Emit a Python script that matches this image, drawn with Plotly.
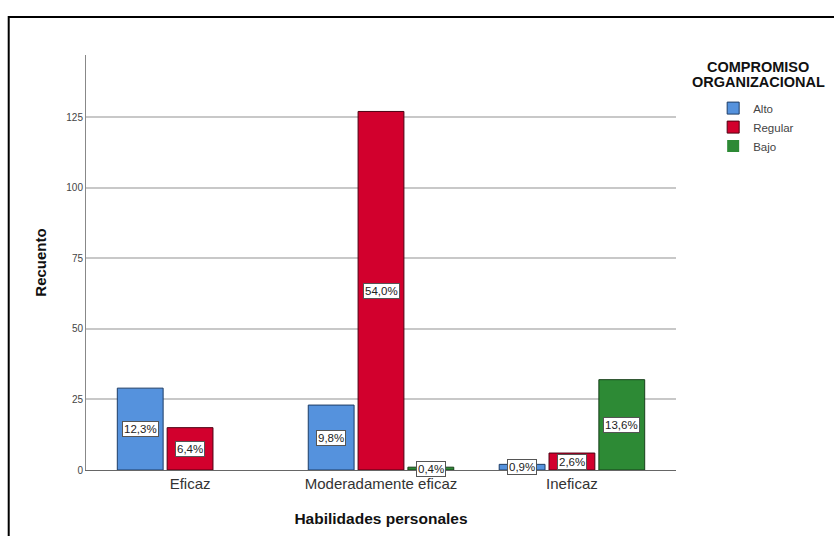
import plotly.graph_objects as go

# Counts of respondents by personal-skills level and organisational commitment
categories = ["Eficaz", "Moderadamente eficaz", "Ineficaz"]
series_names = ["Alto", "Regular", "Bajo"]
alto = [29, 23, 2]
regular = [15, 127, 6]
bajo = [0, 1, 32]
y_ticks = [0, 25, 50, 75, 100, 125]
legend_heading = ["COMPROMISO", "ORGANIZACIONAL"]

series_values = [alto, regular, bajo]
fill_colors = ["#5592dd", "#d2002d", "#2d8a35"]
line_colors = ["#1e3d66", "#4d0012", "#173f1a"]

FONT = "Liberation Sans, Arial, sans-serif"
total = sum(sum(v) for v in series_values)

bar_w = 0.24
gap = 0.021
offsets = [-bar_w * 1.5 - gap, -bar_w / 2, bar_w / 2 + gap]

fig = go.Figure()
annotations = []
for name, vals, fc, lc, off in zip(series_names, series_values, fill_colors, line_colors, offsets):
    fig.add_trace(go.Bar(
        x=categories, y=vals, name=name,
        width=bar_w, offset=off,
        marker=dict(color=fc, line=dict(color=lc, width=[1 if v > 0 else 0 for v in vals])),
        hoverinfo="x+y+name",
    ))
    # percentage-of-total label in the middle of each non-empty bar
    for i, v in enumerate(vals):
        if v <= 0:
            continue
        pct = f"{100 * v / total:.1f}%".replace(".", ",")
        annotations.append(dict(
            x=i + off + bar_w / 2, y=v / 2, xref="x", yref="y",
            text=pct, showarrow=False,
            font=dict(family=FONT, size=11.5, color="#222222"),
            bgcolor="white", bordercolor="#555555", borderwidth=1, borderpad=1,
        ))

# Legend heading, two tightly spaced lines
for line, ypos in zip(legend_heading, [0.971, 0.935]):
    annotations.append(dict(
        x=1.139, y=ypos, xref="paper", yref="paper",
        text=f"<b>{line}</b>", showarrow=False,
        xanchor="center", yanchor="middle",
        font=dict(family=FONT, size=14.5, color="#111111"),
    ))

fig.update_layout(
    width=834, height=536,
    margin=dict(l=86, r=158, t=55, b=66),
    paper_bgcolor="white", plot_bgcolor="white",
    barmode="overlay",
    showlegend=True,
    legend=dict(
        x=1.063, y=0.907, xanchor="left", yanchor="top",
        font=dict(family=FONT, size=11.5, color="#444444"),
        itemwidth=30, tracegroupgap=0, bgcolor="rgba(0,0,0,0)",
    ),
    annotations=annotations,
    shapes=[dict(
        type="rect", xref="paper", yref="paper",
        x0=-0.131, x1=1.3, y0=-0.25, y1=1.0915,
        line=dict(color="black", width=2), fillcolor="rgba(0,0,0,0)",
        layer="above",
    )],
    xaxis=dict(
        type="category",
        range=[-0.545, 2.545],
        showline=True, linecolor="#666666", linewidth=1,
        showgrid=False, ticks="", ticklen=0,
        tickfont=dict(family=FONT, size=15, color="#333333"),
        title=dict(text="<b>Habilidades personales</b>", standoff=22,
                   font=dict(family=FONT, size=15.5, color="#111111")),
    ),
    yaxis=dict(
        range=[0, 147],
        tickvals=y_ticks,
        showline=True, linecolor="#888888", linewidth=1,
        showgrid=True, gridcolor="#c8c8c8", gridwidth=1.5,
        zeroline=False, ticks="", ticklen=0,
        tickfont=dict(family=FONT, size=10, color="#444444"),
        title=dict(text="<b>Recuento</b>", standoff=16,
                   font=dict(family=FONT, size=15, color="#111111")),
    ),
)

fig.write_html("out.html")
